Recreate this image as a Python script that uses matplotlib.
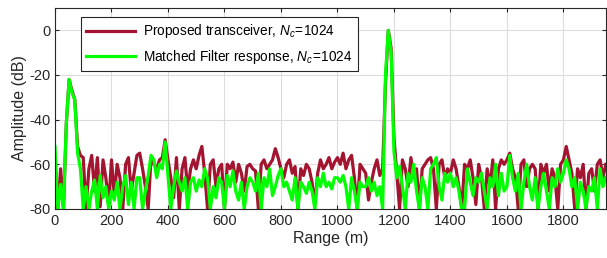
import matplotlib
matplotlib.use('Agg')
import matplotlib.pyplot as plt
import numpy as np

plt.rcParams['font.family'] = ['Liberation Sans', 'DejaVu Sans']
plt.rcParams['mathtext.fontset'] = 'custom'
plt.rcParams['mathtext.rm'] = 'Liberation Sans'
plt.rcParams['mathtext.it'] = 'Liberation Sans:italic'
plt.rcParams['axes.unicode_minus'] = False

# range samples every 10 m
range_m = np.arange(0, 1951, 10)

# proposed transceiver (dB)
proposed_db = [
    -58, -80, -62, -80, -42, -22, -27, -31, -52, -56,
    -57, -80, -62, -56, -72, -57, -79, -58, -66, -78,
    -58, -74, -60, -66, -80, -60, -57, -72, -64, -56,
    -55, -62, -70, -80, -57, -60, -62, -58, -57, -49,
    -58, -66, -75, -57, -80, -62, -57, -72, -62, -58,
    -62, -56, -52, -64, -80, -60, -58, -70, -62, -60,
    -80, -60, -62, -59, -68, -60, -64, -72, -61, -60,
    -62, -63, -80, -60, -58, -62, -60, -58, -53, -57,
    -62, -66, -60, -58, -64, -61, -80, -62, -65, -60,
    -62, -68, -78, -64, -58, -62, -60, -57, -62, -59,
    -57, -60, -55, -62, -58, -56, -66, -80, -60, -62,
    -64, -76, -68, -62, -58, -65, -62, -24, 0, -8,
    -48, -64, -80, -58, -62, -70, -57, -66, -62, -80,
    -62, -60, -58, -57, -62, -80, -60, -58, -66, -62,
    -64, -58, -62, -70, -80, -60, -62, -58, -66, -78,
    -60, -66, -80, -62, -70, -58, -80, -62, -58, -60,
    -58, -55, -62, -66, -80, -60, -58, -70, -62, -60,
    -62, -80, -60, -64, -60, -72, -62, -66, -80, -60,
    -58, -52, -58, -64, -80, -62, -66, -60, -80, -64,
    -62, -72, -60, -58, -66, -60,
]

# matched filter response (dB)
matched_db = [
    -52, -80, -69, -80, -42, -22, -28, -31, -55, -62,
    -80, -70, -80, -72, -67, -80, -65, -75, -70, -80,
    -72, -76, -68, -80, -70, -65, -78, -68, -80, -66,
    -66, -80, -72, -65, -56, -58, -66, -60, -62, -50,
    -65, -80, -70, -63, -68, -72, -66, -80, -68, -66,
    -72, -67, -70, -62, -66, -80, -70, -75, -66, -68,
    -80, -65, -70, -63, -72, -76, -68, -80, -70, -66,
    -68, -72, -64, -80, -66, -70, -62, -74, -70, -65,
    -62, -70, -68, -72, -76, -66, -80, -68, -70, -73,
    -68, -72, -80, -66, -70, -64, -70, -68, -71, -66,
    -66, -68, -65, -70, -80, -66, -72, -80, -68, -70,
    -70, -66, -72, -68, -74, -70, -80, -20, 0, -10,
    -54, -66, -61, -70, -80, -64, -68, -60, -72, -80,
    -66, -70, -80, -62, -60, -57, -70, -76, -64, -68,
    -64, -70, -66, -72, -80, -80, -62, -68, -74, -66,
    -68, -64, -72, -80, -66, -70, -60, -74, -64, -72,
    -70, -56, -66, -72, -64, -80, -68, -60, -70, -76,
    -66, -80, -70, -64, -72, -80, -66, -70, -62, -68,
    -64, -58, -62, -70, -66, -80, -68, -72, -80, -70,
    -72, -66, -80, -62, -70, -66,
]

fig = plt.figure(figsize=(6.07, 2.58), dpi=100)
ax = fig.add_axes([0.0906, 0.19, 0.9074, 0.779])

ax.plot(range_m, proposed_db, color='#A2142F', lw=2.3,
        label=r'Proposed transceiver, $N_c\!=\!\mathit{1024}$')
ax.plot(range_m, matched_db, color='#00FF00', lw=2.3,
        label=r'Matched Filter response, $N_c\!=\!\mathit{1024}$')

ax.set_xlim(0, 1950)
ax.set_ylim(-80, 10)
ax.set_xticks(np.arange(0, 1801, 200))
ax.set_yticks(np.arange(-80, 1, 20))
ax.grid(True, color='#dcdcdc', lw=0.8)
ax.set_axisbelow(True)
ax.tick_params(direction='in', top=True, right=True, labelsize=10.5,
               colors='#262626', length=3)
for s in ax.spines.values():
    s.set_color('#262626')
    s.set_linewidth(0.8)

ax.set_xlabel('Range (m)', fontsize=11.5, color='#262626', labelpad=2)
ax.set_ylabel('Amplitude (dB)', fontsize=11.5, color='#262626', labelpad=1)

leg = ax.legend(loc='upper left', bbox_to_anchor=(0.047, 0.955),
                fontsize=9.8, fancybox=False, framealpha=1,
                edgecolor='#262626', borderaxespad=0, handlelength=3.6,
                handletextpad=0.6, labelspacing=0.55)
leg.get_frame().set_linewidth(0.8)

plt.savefig('out.png', dpi=100)
